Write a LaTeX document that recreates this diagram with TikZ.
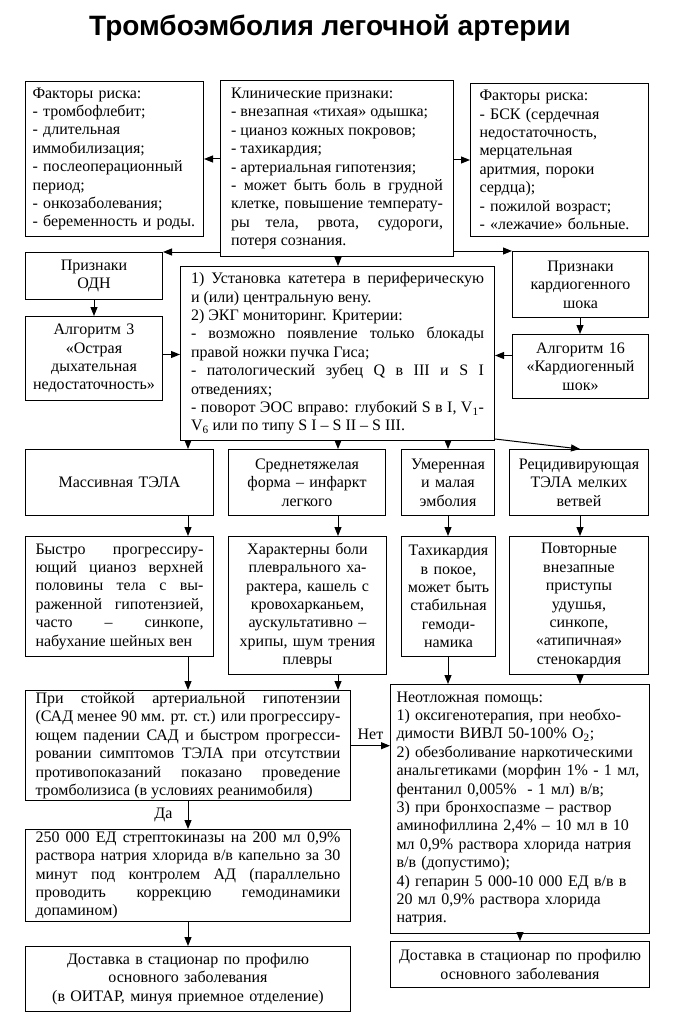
\documentclass[tikz,border=0pt]{standalone}
\usepackage{fontspec}
\setmainfont{Liberation Serif}
\newfontfamily\titlefont{Liberation Sans}
\usetikzlibrary{arrows.meta,calc}
\newcommand\bxfont{\fontsize{16}{18.4}\selectfont\parindent=0pt\hyphenpenalty=10000\tolerance=9999\relax}
\tikzset{
  box/.style={draw, line width=1pt, inner ysep=2pt, font=\bxfont},
  arr/.style={line width=1pt, -{Triangle[length=9pt,width=7pt]}},
  lbl/.style={font=\bxfont, inner sep=0pt}
}
% name, x1, y1, x2, y2, align, pad, text
\newcommand\bx[8]{\node[box,align=#6,inner xsep=#7pt,anchor=north west,
  minimum width=#4pt-#2pt,minimum height=#5pt-#3pt,text width=#4pt-#2pt-2*#7pt] (#1) at (#2,#3) {#8};}
\begin{document}
\begin{tikzpicture}[x=1pt,y=-1pt]
\fill[white] (0,0) rectangle (693,1032);
\useasboundingbox (0,0) rectangle (693,1032);
\node[font=\titlefont\fontsize{28}{32}\selectfont\bfseries, anchor=base] (title) at (330,36) {Тромбоэмболия легочной артерии};

\bx{rl}{25}{81}{203}{236}{left}{7}{Факторы риска:\\- тромбофлебит;\\- длительная\\иммобилизация;\\- послеоперационный\\период;\\- онкозаболевания;\\- беременность и роды.}
\bx{cl}{220}{80}{453}{256}{justify}{10.5}{Клинические признаки:\\- внезапная «тихая» одышка;\\- цианоз кожных покровов;\\- тахикардия;\\- артериальная гипотензия;\\- может быть боль в грудной\linebreak клетке, повышение температу-\linebreak ры тела, рвота, судороги,\linebreak потеря сознания.}
\bx{rr}{470}{83}{648}{236}{left}{9}{Факторы риска:\\- БСК (сердечная\\недостаточность,\\мерцательная\\аритмия, пороки\\сердца);\\- пожилой возраст;\\- «лежачие» больные.}

\bx{odn}{25}{252}{162}{299}{center}{2}{Признаки\\ОДН}
\bx{ks}{512}{251}{648}{317}{center}{2}{Признаки\\кардиогенного\\шока}
\bx{a3}{25}{316}{162}{400}{center}{2}{Алгоритм 3\\«Острая\\дыхательная\\недостаточность»}
\bx{c}{180}{266}{494}{440}{justify}{10.5}{1) Установка катетера в периферическую\linebreak и (или) центральную вену.\\2) ЭКГ мониторинг. Критерии:\\- возможно появление только блокады\linebreak правой ножки пучка Гиса;\\- патологический зубец Q в III и S I\linebreak отведениях;\\- поворот ЭОС вправо: глубокий S в I, V\textsubscript{1}-\linebreak V\textsubscript{6} или по типу S I – S II – S III.}
\bx{a16}{512}{334}{648}{398}{center}{2}{Алгоритм 16\\«Кардиогенный\\шок»}

\bx{m1}{25}{449}{213}{515}{center}{2}{Массивная ТЭЛА}
\bx{m2}{228}{449}{385}{515}{center}{2}{Среднетяжелая\\форма – инфаркт\\легкого}
\bx{m3}{401}{449}{494}{515}{center}{2}{Умеренная\\и малая\\эмболия}
\bx{m4}{509}{449}{648}{515}{center}{2}{Рецидивирующая\\ТЭЛА мелких\\ветвей}

\bx{s1}{25}{536}{213}{656}{justify}{10}{Быстро прогрессиру-\linebreak ющий цианоз верхней\linebreak половины тела с вы-\linebreak раженной гипотензией,\linebreak часто – синкопе,\linebreak набухание шейных вен}
\bx{s2}{228}{536}{386}{674}{center}{2}{Характерны боли\\плеврального ха-\\рактера, кашель с\\кровохарканьем,\\аускультативно –\\хрипы, шум трения\\плевры}
\bx{s3}{401}{536}{495}{656}{center}{2}{Тахикардия\\в покое,\\может быть\\стабильная\\гемоди-\\намика}
\bx{s4}{509}{536}{648}{674}{center}{2}{Повторные\\внезапные\\приступы\\удушья,\\синкопе,\\«атипичная»\\стенокардия}

\bx{p1}{25}{690}{350}{800}{justify}{10}{При стойкой артериальной гипотензии\linebreak (САД менее 90 мм. рт. ст.) или прогрессиру-\linebreak ющем падении САД и быстром прогресси-\linebreak ровании симптомов ТЭЛА при отсутствии\linebreak противопоказаний показано проведение\linebreak тромболизиса (в условиях реанимобиля)}
\bx{nh}{390}{684}{649}{933}{left}{6}{Неотложная помощь:\\1) оксигенотерапия, при необхо-\\димости ВИВЛ 50-100\% O\textsubscript{2};\\2) обезболивание наркотическими\\анальгетиками (морфин 1\% - 1 мл,\\фентанил 0,005\%\ \ - 1 мл) в/в;\\3) при бронхоспазме – раствор\\аминофиллина 2,4\% – 10 мл в 10\\мл 0,9\% раствора хлорида натрия\\в/в (допустимо);\\4) гепарин 5 000-10 000 ЕД в/в в\\20 мл 0,9\% раствора хлорида\\натрия.}
\bx{p2}{25}{829}{350}{921}{justify}{10}{250 000 ЕД стрептокиназы на 200 мл 0,9\%\linebreak раствора натрия хлорида в/в капельно за 30\linebreak минут под контролем АД (параллельно\linebreak проводить коррекцию гемодинамики\linebreak допамином)}
\bx{d1}{25}{946}{350}{1011}{center}{2}{Доставка в стационар по профилю\\основного заболевания\\(в ОИТАР, минуя приемное отделение)}
\bx{d2}{390}{941}{649}{987}{center}{2}{Доставка в стационар по профилю\\основного заболевания}

\coordinate (v1) at (188,0);
\coordinate (v2) at (338,0);
\coordinate (v3) at (448,0);
\coordinate (v4) at (580,0);

\draw[arr] (cl.west |- rl.east) -- (rl.east);
\draw[arr] (cl.east |- rr.west) -- (rr.west);
\draw[arr] (cl.west |- odn.north) -- (odn.north east);
\draw[arr] (cl.east |- ks.north) -- (ks.north west);
\draw[arr] (cl.south -| v2) -- (c.north -| v2);
\draw[arr] (odn.south) -- (a3.north);
\draw[arr] ([yshift=4pt]a3.east) -- ([yshift=4pt]a3.east -| c.west);
\draw[arr] (ks.south -| v4) -- (a16.north -| v4);
\draw[arr] ([yshift=11pt]a16.west) -- ([yshift=11pt]a16.west -| c.east);

\draw[arr] (c.south -| v1) -- (m1.north -| v1);
\draw[arr] (c.south -| v2) -- (m2.north -| v2);
\draw[arr] (c.south -| v3) -- (m3.north -| v3);
\draw[arr] ([yshift=2pt]c.south east) -- (m4.north -| v4);

\draw[arr] (m1.south -| v1) -- (s1.north -| v1);
\draw[arr] (m2.south -| v2) -- (s2.north -| v2);
\draw[arr] (m3.south -| v3) -- (s3.north -| v3);
\draw[arr] (m4.south -| v4) -- (s4.north -| v4);

\draw[arr] (s1.south -| v1) -- (p1.north -| v1);
\draw[arr] (s2.south -| v2) -- (p1.north -| v2);
\draw[arr] (s3.south -| v3) -- (nh.north -| v3);
\draw[arr] (s4.south -| v4) -- (nh.north -| v4);

\draw[arr] (p1.east) -- node[lbl, above=6pt] {Нет} (p1.east -| nh.west);
\draw[arr] (p1.south -| v1) -- node[lbl, left=15pt] {Да} (p2.north -| v1);
\draw[arr] (p2.south -| v1) -- (d1.north -| v1);
\draw[arr] (nh.south) -- (d2.north);
\end{tikzpicture}
\end{document}
